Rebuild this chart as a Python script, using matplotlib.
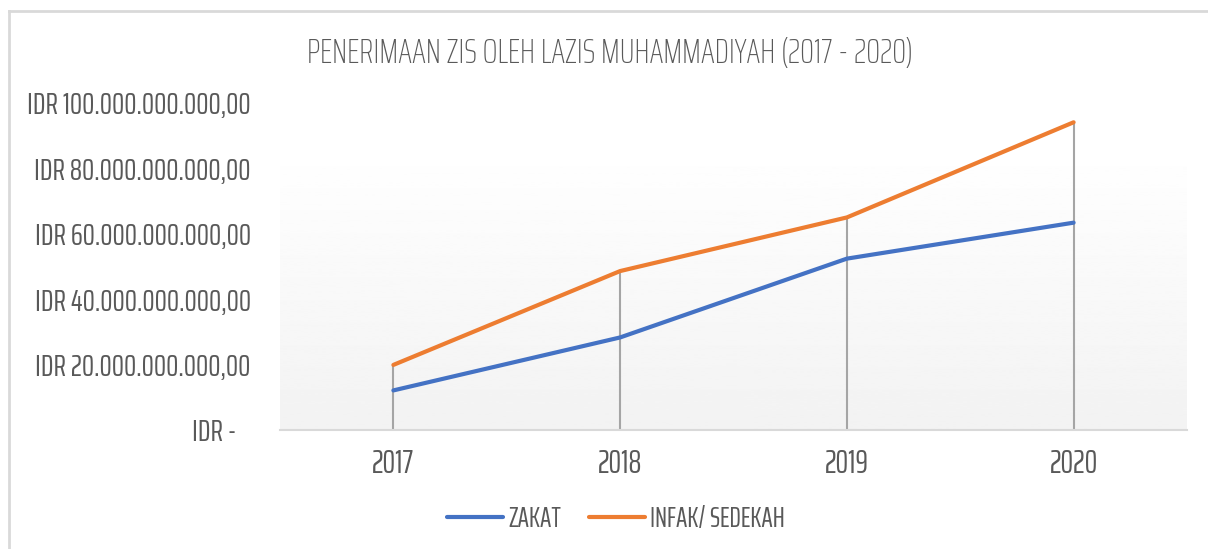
import numpy as np
import matplotlib
matplotlib.use("Agg")
from matplotlib import pyplot as plt
from matplotlib.lines import Line2D
from matplotlib.ticker import FuncFormatter

years = ["2017", "2018", "2019", "2020"]
zakat = [12.1e9, 28.3e9, 52.4e9, 63.4e9]
infak = [19.9e9, 48.6e9, 65.0e9, 94.1e9]
yticks = [0, 20e9, 40e9, 60e9, 80e9, 100e9]

plt.rcParams['font.family'] = ['Saira ExtraCondensed', 'DejaVu Sans']
plt.rcParams['font.weight'] = 'normal'
grey = "#595959"

def idr(v, pos):
    if v == 0:
        return "IDR -   "
    s = "{:,.0f}".format(v).replace(",", ".")
    return "IDR " + s + ",00"

fig = plt.figure(figsize=(12.08, 5.49), dpi=100)
ax = fig.add_axes([0.2318, 0.2168, 0.7508, 0.5956])

x = np.arange(len(years))

# gradient background of the plot area
grad = np.linspace(0.95, 1.0, 256).reshape(-1, 1)
ax.imshow(grad, cmap="gray", vmin=0, vmax=1, extent=[0, 1, 0, 0.872],
          transform=ax.transAxes, aspect="auto", zorder=0, origin="lower")

tops = [max(a, b) for a, b in zip(zakat, infak)]
ax.vlines(x, 0, tops, color="#a5a5a5", lw=1.5, zorder=1)
ax.plot(x, zakat, color="#4472c4", lw=3, solid_capstyle="round", label="ZAKAT", zorder=3)
ax.plot(x, infak, color="#ed7d31", lw=3, solid_capstyle="round", label="INFAK/ SEDEKAH", zorder=3)

ax.set_xlim(-0.5, 3.5)
ax.set_ylim(0, 100e9)
ax.set_xticks(x)
ax.set_xticklabels(years)
ax.set_yticks(yticks)
ax.yaxis.set_major_formatter(FuncFormatter(idr))
ax.tick_params(axis="both", length=0, labelcolor=grey)
ax.tick_params(axis="y", pad=21, labelsize=22)
ax.tick_params(axis="x", pad=14, labelsize=23)
for s in ["top", "right", "left"]:
    ax.spines[s].set_visible(False)
ax.spines["bottom"].set_color("#d9d9d9")
ax.spines["bottom"].set_linewidth(1.5)

fig.text(0.505, 0.903, "PENERIMAAN ZIS OLEH LAZIS MUHAMMADIYAH (2017 - 2020)",
         ha="center", va="center", fontsize=25, color=grey, fontweight="light")

fig.legend(loc="center", bbox_to_anchor=(0.51, 0.0546), ncol=2, frameon=False,
           fontsize=20, labelcolor=grey, handlelength=2.0, handletextpad=0.2,
           columnspacing=1.0)

# chart border
fig.add_artist(Line2D([0.0075, 1], [0.98, 0.98], color="#d9d9d9", lw=2))
fig.add_artist(Line2D([0.0075, 0.0075], [0, 0.98], color="#d9d9d9", lw=2))

fig.savefig("out.png", dpi=100)
